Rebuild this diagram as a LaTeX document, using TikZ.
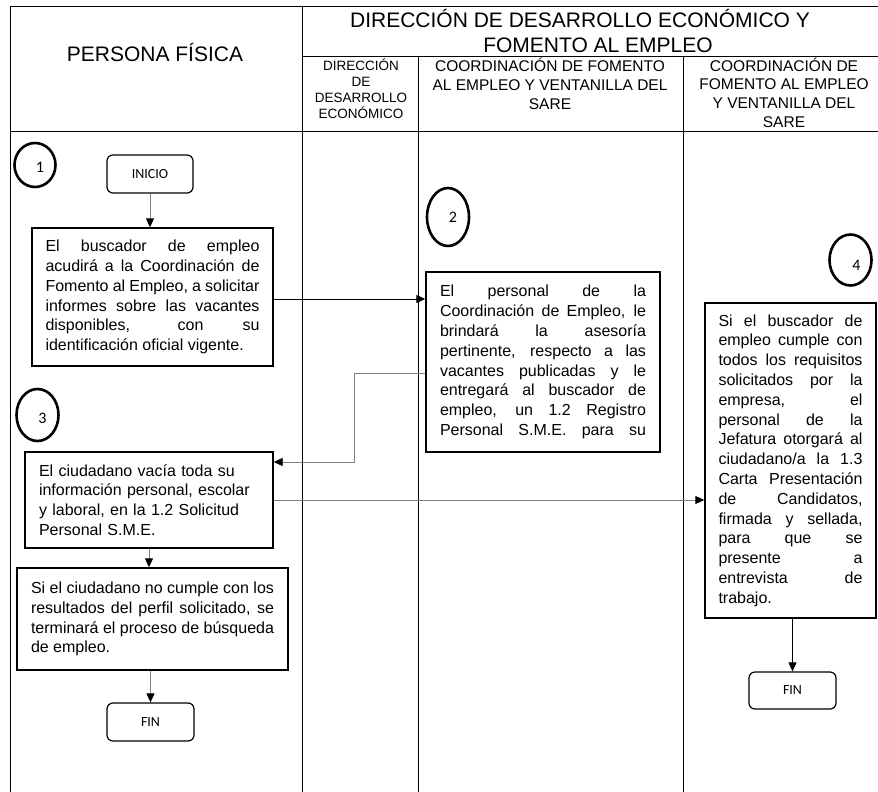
\documentclass[tikz,border=0pt]{standalone}
\usepackage{fontspec}
\setmainfont{Liberation Sans}
\newfontfamily\califont{Carlito}
\usetikzlibrary{arrows.meta,shapes.geometric}
\definecolor{lgray}{HTML}{7F7F7F}
\newcommand{\jl}[2]{\makebox[#1][s]{#2}}
\begin{document}
\begin{tikzpicture}[x=1pt,y=-1pt,
  frame/.style={line width=0.9pt, line cap=rect},
  box/.style={draw, line width=1.4pt, inner sep=0pt, align=left, font=\fontsize{16}{19.8}\selectfont},
  term/.style={draw, line width=1.2pt, rounded corners=6pt, inner sep=0pt, font=\califont\fontsize{14}{16}\selectfont},
  num/.style={draw, ellipse, line width=2.6pt, inner sep=0pt},
  numtext/.style={font=\califont\fontsize{16}{18}\selectfont},
  blackflow/.style={line width=0.9pt, black, -{Triangle[length=9pt,width=8pt]}},
  grayflow/.style={line width=0.9pt, lgray, -{Triangle[length=9pt,width=8pt,color=black]}},
  head/.style={anchor=base, align=center, inner sep=0pt}
]
\useasboundingbox (0,0) rectangle (878,792);

% frame
\draw[frame] (10,792) -- (10,6) -- (878,6);
\draw[frame] (302,6) -- (302,792);
\draw[frame] (302,56) -- (878,56);
\draw[frame] (10,131) -- (878,131);
\draw[frame] (418,56) -- (418,792);
\draw[frame] (683,56) -- (683,792);

% headers (base anchor = baseline of the last line)
\node[head, font=\fontsize{21}{24}\selectfont] (hpf) at (155,61.5) {PERSONA FÍSICA};
\node[head, font=\fontsize{21}{24}\selectfont] (hdir1) at (580,28) {DIRECCIÓN DE DESARROLLO ECONÓMICO Y};
\node[head, font=\fontsize{21}{24}\selectfont] (hdir2) at (598,53) {FOMENTO AL EMPLEO};
\node[head, font=\fontsize{13.5}{16}\selectfont] (hsub1) at (361,118.5) {DIRECCIÓN\\DE\\DESARROLLO\\ECONÓMICO};
\node[head, font=\fontsize{15.5}{18.8}\selectfont] (hsub2) at (550,109) {COORDINACIÓN DE FOMENTO\\AL EMPLEO Y VENTANILLA DEL\\SARE};
\node[head, font=\fontsize{15.5}{18.8}\selectfont] (hsub3) at (784,127.5) {COORDINACIÓN DE\\FOMENTO AL EMPLEO\\Y VENTANILLA DEL\\SARE};

% step circles
\node[num, minimum width=41pt, minimum height=44pt, label={[numtext, xshift=5pt, yshift=-2pt]center:1}] (c1) at (35,165) {};
\node[num, minimum width=42pt, minimum height=58pt, label={[numtext, xshift=5pt]center:2}] (c2) at (448,217) {};
\node[num, minimum width=42pt, minimum height=52pt, label={[numtext, xshift=5pt, yshift=-3pt]center:3}] (c3) at (37.5,415) {};
\node[num, minimum width=42pt, minimum height=51pt, label={[numtext, xshift=6pt, yshift=-5pt]center:4}] (c4) at (850.5,260) {};

% terminals
\node[term, minimum width=86pt, minimum height=38pt] (inicio) at (150,174) {INICIO};
\node[term, minimum width=87pt, minimum height=38pt] (fin1) at (150.5,722) {FIN};
\node[term, minimum width=87pt, minimum height=37pt] (fin2) at (792.5,690.5) {FIN};

% process boxes
\node[box, minimum width=241pt, minimum height=138pt] (b1) at (152.5,297) {%
\jl{214pt}{El buscador de empleo}\\
\jl{214pt}{acudirá a la Coordinación de}\\
\jl{214pt}{Fomento al Empleo, a solicitar}\\
\jl{214pt}{informes sobre las vacantes}\\
\jl{214pt}{disponibles, con su}\\
identificación oficial vigente.};

\node[box, minimum width=234pt, minimum height=180pt] (b2) at (543,362) {%
\jl{206pt}{El personal de la}\\
\jl{206pt}{Coordinación de Empleo, le}\\
\jl{206pt}{brindará la asesoría}\\
\jl{206pt}{pertinente, respecto a las}\\
\jl{206pt}{vacantes publicadas y le}\\
\jl{206pt}{entregará al buscador de}\\
\jl{206pt}{empleo, un 1.2 Registro}\\
\jl{206pt}{Personal S.M.E. para su}};

\node[box, minimum width=248pt, minimum height=96pt, text width=220pt] (b3) at (149,500) {%
El ciudadano vacía toda su\\
información personal, escolar\\
y laboral, en la 1.2 Solicitud\\
Personal S.M.E.};

\node[box, minimum width=271pt, minimum height=102pt] (b5) at (152.5,619) {%
\jl{243pt}{Si el ciudadano no cumple con los}\\
\jl{243pt}{resultados del perfil solicitado, se}\\
\jl{243pt}{terminará el proceso de búsqueda}\\
de empleo.};

\node[box, minimum width=171pt, minimum height=315pt] (b4) at (790.5,460.5) {%
\jl{144pt}{Si el buscador de}\\
\jl{144pt}{empleo cumple con}\\
\jl{144pt}{todos los requisitos}\\
\jl{144pt}{solicitados por la}\\
\jl{144pt}{empresa, el}\\
\jl{144pt}{personal de la}\\
\jl{144pt}{Jefatura otorgará al}\\
\jl{144pt}{ciudadano/a la 1.3}\\
\jl{144pt}{Carta Presentación}\\
\jl{144pt}{de Candidatos,}\\
\jl{144pt}{firmada y sellada,}\\
\jl{144pt}{para que se}\\
\jl{144pt}{presente a}\\
\jl{144pt}{entrevista de}\\
trabajo.};

% connectors
\draw[grayflow] (inicio) -- (inicio |- b1.north);
\draw[blackflow] ([yshift=-2pt]b1.east) -- ([yshift=-2pt]b1.east -| b2.west);
\draw[grayflow] ([yshift=-11pt]b2.west) -- ++(-71,0) |- ([yshift=38pt]b3.east);
\draw[grayflow] (b3.east) -- (b3.east -| b4.west);
\draw[grayflow] (b3) -- (b3 |- b5.north);
\draw[grayflow] (fin1 |- b5.south) -- (fin1.north);
\draw[blackflow] (fin2 |- b4.south) -- (fin2.north);
\end{tikzpicture}
\end{document}
